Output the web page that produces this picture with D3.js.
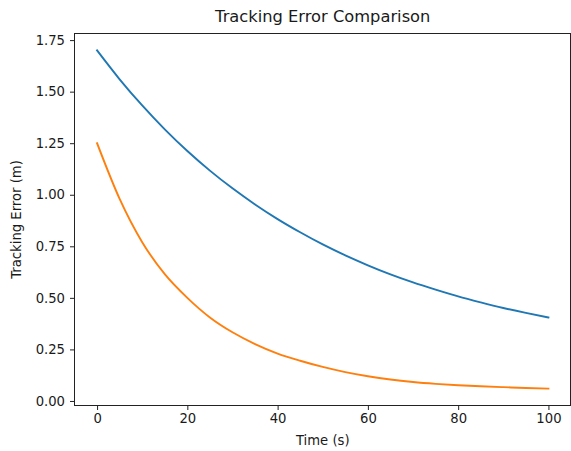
<!DOCTYPE html>
<html>
<head>
<meta charset="utf-8">
<script src="https://cdn.jsdelivr.net/npm/d3@7"></script>
<style>
    body{ margin:0; background:#fff; }
    svg text{ font-family:"DejaVu Sans", sans-serif; fill:#1a1a1a; }
</style>
</head>
<body>
<svg id="chart" width="571" height="451"></svg>
<script>
const time = [0, 5, 10, 15, 20, 25, 30, 35, 40, 45, 50, 55, 60, 65, 70, 75, 80, 85, 90, 95, 100]
const errorBlue = [1.70, 1.56, 1.433, 1.317, 1.212, 1.117, 1.031, 0.953, 0.882, 0.818, 0.759, 0.706, 0.658, 0.614, 0.575, 0.540, 0.507, 0.478, 0.451, 0.427, 0.405]
const errorOrange = [1.25, 0.98, 0.77, 0.615, 0.50, 0.405, 0.333, 0.276, 0.23, 0.195, 0.165, 0.14, 0.12, 0.104, 0.092, 0.083, 0.076, 0.071, 0.067, 0.063, 0.06]
const xTicks = [0, 20, 40, 60, 80, 100]
const yTicks = [0.00, 0.25, 0.50, 0.75, 1.00, 1.25, 1.50, 1.75]
const seriesColors = ["#1f77b4", "#ff7f0e"]

const svg = d3.select("#chart")
const box = {left: 74.5, right: 571, top: 33.5, bottom: 405.5}

const x = d3.scaleLinear().domain([-5, 105]).range([box.left, box.right])
const y = d3.scaleLinear().domain([-0.022, 1.782]).range([box.bottom, box.top])

const line = d3.line()
    .x((d, i) => x(time[i]))
    .y(d => y(d))
    .curve(d3.curveMonotoneX)

const plot = svg.append("g").attr("class", "lines")
;[errorBlue, errorOrange].forEach((series, k) => {
    plot.append("path")
        .datum(series)
        .attr("fill", "none")
        .attr("stroke", seriesColors[k])
        .attr("stroke-width", 1.9)
        .attr("stroke-linecap", "square")
        .attr("d", line)
})

const xAxis = svg.append("g")
    .attr("transform", `translate(0,${box.bottom})`)
    .call(d3.axisBottom(x).tickValues(xTicks).tickSize(4.5).tickPadding(4).tickFormat(d3.format("d")))
xAxis.select(".domain").remove()
xAxis.selectAll("line").attr("stroke", "#222")
xAxis.selectAll("text").style("font-size", "13.2px").attr("fill", "#1a1a1a")

const yAxis = svg.append("g")
    .attr("transform", `translate(${box.left},0)`)
    .call(d3.axisLeft(y).tickValues(yTicks).tickSize(4.5).tickPadding(5).tickFormat(d3.format(".2f")))
yAxis.select(".domain").remove()
yAxis.selectAll("line").attr("stroke", "#222")
yAxis.selectAll("text").style("font-size", "13.2px").attr("fill", "#1a1a1a")

svg.append("rect")
    .attr("x", box.left)
    .attr("y", box.top)
    .attr("width", box.right - box.left - 0.5)
    .attr("height", box.bottom - box.top)
    .attr("fill", "none")
    .attr("stroke", "#222")
    .attr("stroke-width", 1)

svg.append("text")
    .attr("x", (box.left + box.right) / 2)
    .attr("y", 22)
    .attr("text-anchor", "middle")
    .style("font-size", "16.3px")
    .text("Tracking Error Comparison")

svg.append("text")
    .attr("x", (box.left + box.right) / 2)
    .attr("y", 445)
    .attr("text-anchor", "middle")
    .style("font-size", "13.2px")
    .text("Time (s)")

svg.append("text")
    .attr("transform", `translate(21,${(box.top + box.bottom) / 2}) rotate(-90)`)
    .attr("text-anchor", "middle")
    .style("font-size", "13.2px")
    .text("Tracking Error (m)")
</script>
</body>
</html>
